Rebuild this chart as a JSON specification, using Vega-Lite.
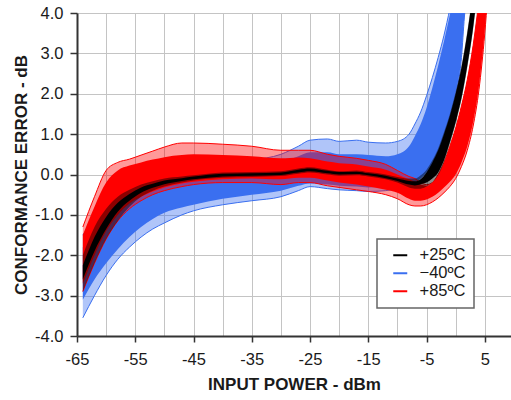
{
  "$schema": "https://vega.github.io/schema/vega-lite/v6.json",
  "width": 434,
  "height": 323,
  "autosize": {"type": "none"},
  "padding": {"left": 77, "top": 13, "right": 0, "bottom": 64},
  "config": {
    "view": {"stroke": null},
    "font": "Liberation Sans",
    "axis": {
      "gridColor": "#c4c4c4", "gridWidth": 1,
      "domainColor": "#333333", "domainWidth": 2,
      "tickColor": "#333333", "tickWidth": 1.5,
      "labelFont": "Liberation Sans", "labelFontSize": 16.5, "labelColor": "#1a1a1a",
      "titleFont": "Liberation Sans", "titleFontSize": 17, "titleFontWeight": "bold", "titleColor": "#1a1a1a",
      "labelFlush": false, "labelOverlap": false, "labelBound": false
    },
    "legend": {"strokeWidth": 1.5}
  },
  "data": {
    "values": [
      {"t": "−40ºC", "x": -64, "lo": -3.55, "hi": -1.5, "clo": -3.1, "chi": -1.8},
      {"t": "−40ºC", "x": -62, "lo": -3.0, "hi": -1.1, "clo": -2.6, "chi": -1.4},
      {"t": "−40ºC", "x": -60, "lo": -2.5, "hi": -0.8, "clo": -2.2, "chi": -1.05},
      {"t": "−40ºC", "x": -58, "lo": -2.1, "hi": -0.6, "clo": -1.85, "chi": -0.8},
      {"t": "−40ºC", "x": -56, "lo": -1.8, "hi": -0.45, "clo": -1.55, "chi": -0.6},
      {"t": "−40ºC", "x": -54, "lo": -1.55, "hi": -0.32, "clo": -1.3, "chi": -0.45},
      {"t": "−40ºC", "x": -52, "lo": -1.35, "hi": -0.22, "clo": -1.1, "chi": -0.33},
      {"t": "−40ºC", "x": -50, "lo": -1.2, "hi": -0.15, "clo": -0.95, "chi": -0.25},
      {"t": "−40ºC", "x": -47, "lo": -1.0, "hi": -0.05, "clo": -0.82, "chi": -0.15},
      {"t": "−40ºC", "x": -45, "lo": -0.9, "hi": 0.05, "clo": -0.75, "chi": -0.1},
      {"t": "−40ºC", "x": -40, "lo": -0.75, "hi": 0.2, "clo": -0.6, "chi": 0.05},
      {"t": "−40ºC", "x": -35, "lo": -0.65, "hi": 0.35, "clo": -0.5, "chi": 0.15},
      {"t": "−40ºC", "x": -30, "lo": -0.55, "hi": 0.5, "clo": -0.4, "chi": 0.3},
      {"t": "−40ºC", "x": -27, "lo": -0.4, "hi": 0.7, "clo": -0.28, "chi": 0.45},
      {"t": "−40ºC", "x": -25, "lo": -0.3, "hi": 0.85, "clo": -0.22, "chi": 0.55},
      {"t": "−40ºC", "x": -22, "lo": -0.35, "hi": 0.88, "clo": -0.25, "chi": 0.55},
      {"t": "−40ºC", "x": -20, "lo": -0.38, "hi": 0.82, "clo": -0.28, "chi": 0.5},
      {"t": "−40ºC", "x": -17, "lo": -0.4, "hi": 0.85, "clo": -0.3, "chi": 0.5},
      {"t": "−40ºC", "x": -15, "lo": -0.42, "hi": 0.8, "clo": -0.32, "chi": 0.48},
      {"t": "−40ºC", "x": -12, "lo": -0.4, "hi": 0.78, "clo": -0.3, "chi": 0.45},
      {"t": "−40ºC", "x": -10, "lo": -0.35, "hi": 0.82, "clo": -0.25, "chi": 0.5},
      {"t": "−40ºC", "x": -8, "lo": -0.3, "hi": 1.0, "clo": -0.25, "chi": 0.7},
      {"t": "−40ºC", "x": -7, "lo": -0.25, "hi": 1.25, "clo": -0.2, "chi": 0.95},
      {"t": "−40ºC", "x": -6, "lo": -0.15, "hi": 1.55, "clo": -0.1, "chi": 1.25},
      {"t": "−40ºC", "x": -5, "lo": 0.0, "hi": 1.95, "clo": 0.05, "chi": 1.65},
      {"t": "−40ºC", "x": -4, "lo": 0.2, "hi": 2.4, "clo": 0.25, "chi": 2.15},
      {"t": "−40ºC", "x": -3, "lo": 0.45, "hi": 2.9, "clo": 0.5, "chi": 2.7},
      {"t": "−40ºC", "x": -2, "lo": 0.85, "hi": 3.45, "clo": 0.9, "chi": 3.3},
      {"t": "−40ºC", "x": -1, "lo": 1.35, "hi": 4.1, "clo": 1.4, "chi": 3.95},
      {"t": "−40ºC", "x": 0, "lo": 1.95, "hi": 4.8, "clo": 2.0, "chi": 4.6},
      {"t": "−40ºC", "x": 1, "lo": 2.9, "hi": 5.5, "clo": 2.95, "chi": 5.3},
      {"t": "−40ºC", "x": 1.5, "lo": 3.9, "hi": 6.0, "clo": 3.95, "chi": 5.7},
      {"t": "−40ºC", "x": 2, "lo": 4.6, "hi": 6.5, "clo": 4.65, "chi": 6.2},

      {"t": "+85ºC", "x": -64, "lo": -2.9, "hi": -1.3, "clo": -2.7, "chi": -1.5},
      {"t": "+85ºC", "x": -62, "lo": -2.2, "hi": -0.55, "clo": -2.0, "chi": -0.8},
      {"t": "+85ºC", "x": -60, "lo": -1.6, "hi": 0.1, "clo": -1.4, "chi": -0.2},
      {"t": "+85ºC", "x": -58, "lo": -1.15, "hi": 0.3, "clo": -1.0, "chi": 0.1},
      {"t": "+85ºC", "x": -56, "lo": -0.85, "hi": 0.38, "clo": -0.72, "chi": 0.22},
      {"t": "+85ºC", "x": -54, "lo": -0.65, "hi": 0.48, "clo": -0.55, "chi": 0.3},
      {"t": "+85ºC", "x": -52, "lo": -0.5, "hi": 0.58, "clo": -0.42, "chi": 0.37},
      {"t": "+85ºC", "x": -50, "lo": -0.4, "hi": 0.68, "clo": -0.32, "chi": 0.43},
      {"t": "+85ºC", "x": -47, "lo": -0.3, "hi": 0.78, "clo": -0.22, "chi": 0.48},
      {"t": "+85ºC", "x": -45, "lo": -0.25, "hi": 0.78, "clo": -0.18, "chi": 0.5},
      {"t": "+85ºC", "x": -40, "lo": -0.2, "hi": 0.75, "clo": -0.12, "chi": 0.48},
      {"t": "+85ºC", "x": -35, "lo": -0.2, "hi": 0.7, "clo": -0.1, "chi": 0.45},
      {"t": "+85ºC", "x": -30, "lo": -0.25, "hi": 0.6, "clo": -0.12, "chi": 0.4},
      {"t": "+85ºC", "x": -27, "lo": -0.2, "hi": 0.6, "clo": -0.08, "chi": 0.42},
      {"t": "+85ºC", "x": -25, "lo": -0.2, "hi": 0.6, "clo": -0.08, "chi": 0.4},
      {"t": "+85ºC", "x": -22, "lo": -0.28, "hi": 0.5, "clo": -0.15, "chi": 0.32},
      {"t": "+85ºC", "x": -20, "lo": -0.32, "hi": 0.45, "clo": -0.2, "chi": 0.28},
      {"t": "+85ºC", "x": -17, "lo": -0.38, "hi": 0.4, "clo": -0.25, "chi": 0.25},
      {"t": "+85ºC", "x": -15, "lo": -0.42, "hi": 0.35, "clo": -0.3, "chi": 0.2},
      {"t": "+85ºC", "x": -12, "lo": -0.5, "hi": 0.25, "clo": -0.38, "chi": 0.12},
      {"t": "+85ºC", "x": -10, "lo": -0.6, "hi": 0.1, "clo": -0.45, "chi": 0.0},
      {"t": "+85ºC", "x": -8, "lo": -0.75, "hi": -0.05, "clo": -0.6, "chi": -0.12},
      {"t": "+85ºC", "x": -7, "lo": -0.78, "hi": -0.1, "clo": -0.65, "chi": -0.18},
      {"t": "+85ºC", "x": -6, "lo": -0.78, "hi": -0.2, "clo": -0.65, "chi": -0.25},
      {"t": "+85ºC", "x": -5, "lo": -0.75, "hi": -0.25, "clo": -0.62, "chi": -0.28},
      {"t": "+85ºC", "x": -4, "lo": -0.68, "hi": -0.2, "clo": -0.55, "chi": -0.2},
      {"t": "+85ºC", "x": -3, "lo": -0.58, "hi": 0.0, "clo": -0.45, "chi": 0.0},
      {"t": "+85ºC", "x": -2, "lo": -0.45, "hi": 0.3, "clo": -0.32, "chi": 0.3},
      {"t": "+85ºC", "x": -1, "lo": -0.3, "hi": 0.7, "clo": -0.18, "chi": 0.7},
      {"t": "+85ºC", "x": 0, "lo": -0.1, "hi": 1.15, "clo": 0.0, "chi": 1.15},
      {"t": "+85ºC", "x": 1, "lo": 0.2, "hi": 1.7, "clo": 0.3, "chi": 1.7},
      {"t": "+85ºC", "x": 2, "lo": 0.6, "hi": 2.35, "clo": 0.7, "chi": 2.35},
      {"t": "+85ºC", "x": 3, "lo": 1.2, "hi": 3.2, "clo": 1.3, "chi": 3.2},
      {"t": "+85ºC", "x": 4, "lo": 2.1, "hi": 4.3, "clo": 2.2, "chi": 4.3},
      {"t": "+85ºC", "x": 5, "lo": 3.5, "hi": 5.5, "clo": 3.6, "chi": 5.5},
      {"t": "+85ºC", "x": 5.5, "lo": 4.4, "hi": 6.0, "clo": 4.5, "chi": 6.0},
      {"t": "+85ºC", "x": 6, "lo": 5.3, "hi": 6.5, "clo": 5.4, "chi": 6.5},

      {"t": "+25ºC", "x": -64, "lo": -2.9, "hi": -2.0, "clo": -2.6, "chi": -2.25},
      {"t": "+25ºC", "x": -62, "lo": -2.2, "hi": -1.3, "clo": -1.9, "chi": -1.55},
      {"t": "+25ºC", "x": -60, "lo": -1.6, "hi": -0.85, "clo": -1.35, "chi": -1.05},
      {"t": "+25ºC", "x": -58, "lo": -1.15, "hi": -0.55, "clo": -0.92, "chi": -0.7},
      {"t": "+25ºC", "x": -56, "lo": -0.8, "hi": -0.38, "clo": -0.65, "chi": -0.48},
      {"t": "+25ºC", "x": -54, "lo": -0.55, "hi": -0.25, "clo": -0.45, "chi": -0.32},
      {"t": "+25ºC", "x": -52, "lo": -0.4, "hi": -0.17, "clo": -0.33, "chi": -0.23},
      {"t": "+25ºC", "x": -50, "lo": -0.3, "hi": -0.1, "clo": -0.24, "chi": -0.15},
      {"t": "+25ºC", "x": -47, "lo": -0.2, "hi": -0.05, "clo": -0.16, "chi": -0.09},
      {"t": "+25ºC", "x": -45, "lo": -0.15, "hi": -0.02, "clo": -0.12, "chi": -0.05},
      {"t": "+25ºC", "x": -40, "lo": -0.08, "hi": 0.05, "clo": -0.05, "chi": 0.02},
      {"t": "+25ºC", "x": -35, "lo": -0.06, "hi": 0.06, "clo": -0.03, "chi": 0.03},
      {"t": "+25ºC", "x": -30, "lo": -0.04, "hi": 0.08, "clo": -0.01, "chi": 0.05},
      {"t": "+25ºC", "x": -27, "lo": 0.02, "hi": 0.15, "clo": 0.05, "chi": 0.12},
      {"t": "+25ºC", "x": -25, "lo": 0.05, "hi": 0.18, "clo": 0.08, "chi": 0.15},
      {"t": "+25ºC", "x": -22, "lo": 0.0, "hi": 0.12, "clo": 0.03, "chi": 0.09},
      {"t": "+25ºC", "x": -20, "lo": -0.03, "hi": 0.08, "clo": 0.0, "chi": 0.06},
      {"t": "+25ºC", "x": -17, "lo": -0.02, "hi": 0.1, "clo": 0.01, "chi": 0.07},
      {"t": "+25ºC", "x": -15, "lo": -0.05, "hi": 0.06, "clo": -0.02, "chi": 0.03},
      {"t": "+25ºC", "x": -12, "lo": -0.12, "hi": 0.0, "clo": -0.09, "chi": -0.03},
      {"t": "+25ºC", "x": -10, "lo": -0.2, "hi": -0.06, "clo": -0.16, "chi": -0.1},
      {"t": "+25ºC", "x": -8, "lo": -0.32, "hi": -0.1, "clo": -0.25, "chi": -0.16},
      {"t": "+25ºC", "x": -7, "lo": -0.35, "hi": -0.1, "clo": -0.27, "chi": -0.17},
      {"t": "+25ºC", "x": -6, "lo": -0.35, "hi": -0.02, "clo": -0.24, "chi": -0.12},
      {"t": "+25ºC", "x": -5, "lo": -0.3, "hi": 0.12, "clo": -0.2, "chi": 0.05},
      {"t": "+25ºC", "x": -4, "lo": -0.2, "hi": 0.35, "clo": -0.1, "chi": 0.3},
      {"t": "+25ºC", "x": -3, "lo": -0.02, "hi": 0.65, "clo": 0.05, "chi": 0.6},
      {"t": "+25ºC", "x": -2, "lo": 0.3, "hi": 1.05, "clo": 0.35, "chi": 1.0},
      {"t": "+25ºC", "x": -1, "lo": 0.75, "hi": 1.5, "clo": 0.8, "chi": 1.45},
      {"t": "+25ºC", "x": 0, "lo": 1.25, "hi": 2.05, "clo": 1.3, "chi": 2.0},
      {"t": "+25ºC", "x": 1, "lo": 1.85, "hi": 2.7, "clo": 1.9, "chi": 2.65},
      {"t": "+25ºC", "x": 2, "lo": 2.65, "hi": 3.55, "clo": 2.7, "chi": 3.5},
      {"t": "+25ºC", "x": 3, "lo": 3.6, "hi": 4.6, "clo": 3.65, "chi": 4.55},
      {"t": "+25ºC", "x": 3.5, "lo": 4.2, "hi": 5.2, "clo": 4.25, "chi": 5.15}
    ]
  },
  "encoding": {
    "x": {
      "field": "x", "type": "quantitative",
      "scale": {"domain": [-65, 9.5], "nice": false, "zero": false},
      "axis": {
        "title": "INPUT POWER - dBm",
        "values": [-65, -60, -55, -50, -45, -40, -35, -30, -25, -20, -15, -10, -5, 0, 5],
        "labelExpr": "(datum.value + 65) % 10 === 0 ? replace(format(datum.value, 'd'), '−', '-') : ''",
        "tickOpacity": {"condition": {"test": "(datum.value + 65) % 10 === 0", "value": 1}, "value": 0},
        "grid": true, "tickSize": 6, "labelPadding": 9, "titlePadding": 9
      }
    },
    "color": {
      "field": "t", "type": "nominal",
      "scale": {"domain": ["+25ºC", "−40ºC", "+85ºC"], "range": ["#000000", "#3a6ff0", "#ff0000"]},
      "legend": {
        "title": null, "orient": "none", "legendX": 300, "legendY": 226,
        "symbolType": "stroke", "symbolSize": 196, "symbolStrokeWidth": 2, "symbolOpacity": 1,
        "labelFont": "Liberation Sans", "labelFontSize": 16.5, "labelColor": "#1a1a1a",
        "padding": 8, "symbolOffset": 7, "labelOffset": 11, "rowPadding": 1,
        "strokeColor": "#666666", "fillColor": "#ffffff"
      }
    }
  },
  "layer": [
    {
      "transform": [{"filter": {"field": "t", "equal": "−40ºC"}}],
      "layer": [
        {
          "mark": {"type": "area", "fillOpacity": 0.4, "clip": true, "interpolate": "monotone"},
          "encoding": {
            "y": {
              "field": "lo", "type": "quantitative",
              "scale": {"domain": [-4, 4], "nice": false, "zero": false},
              "axis": {
                "title": "CONFORMANCE ERROR - dB",
                "values": [-4, -3.5, -3, -2.5, -2, -1.5, -1, -0.5, 0, 0.5, 1, 1.5, 2, 2.5, 3, 3.5, 4],
                "labelExpr": "datum.value % 1 === 0 ? replace(format(datum.value, '.1f'), '−', '-') : ''",
                "tickOpacity": {"condition": {"test": "datum.value % 1 === 0", "value": 1}, "value": 0},
                "grid": true, "tickSize": 7, "labelPadding": 7, "titlePadding": 4
              }
            },
            "y2": {"field": "hi"}
          }
        },
        {
          "mark": {"type": "area", "clip": true, "interpolate": "monotone"},
          "encoding": {"y": {"field": "clo", "type": "quantitative"}, "y2": {"field": "chi"}}
        },
        {
          "mark": {"type": "line", "strokeWidth": 1, "clip": true, "interpolate": "monotone"},
          "encoding": {"y": {"field": "hi", "type": "quantitative"}}
        },
        {
          "mark": {"type": "line", "strokeWidth": 1, "clip": true, "interpolate": "monotone"},
          "encoding": {"y": {"field": "lo", "type": "quantitative"}}
        }
      ]
    },
    {
      "transform": [{"filter": {"field": "t", "equal": "+85ºC"}}],
      "layer": [
        {
          "mark": {"type": "area", "fillOpacity": 0.4, "clip": true, "interpolate": "monotone"},
          "encoding": {"y": {"field": "lo", "type": "quantitative"}, "y2": {"field": "hi"}}
        },
        {
          "mark": {"type": "area", "clip": true, "interpolate": "monotone"},
          "encoding": {"y": {"field": "clo", "type": "quantitative"}, "y2": {"field": "chi"}}
        },
        {
          "mark": {"type": "line", "strokeWidth": 1, "clip": true, "interpolate": "monotone"},
          "encoding": {"y": {"field": "hi", "type": "quantitative"}}
        },
        {
          "mark": {"type": "line", "strokeWidth": 1, "clip": true, "interpolate": "monotone"},
          "encoding": {"y": {"field": "lo", "type": "quantitative"}}
        }
      ]
    },
    {
      "transform": [{"filter": {"field": "t", "equal": "+25ºC"}}],
      "layer": [
        {
          "mark": {"type": "area", "fillOpacity": 0.45, "clip": true, "interpolate": "monotone"},
          "encoding": {"y": {"field": "lo", "type": "quantitative"}, "y2": {"field": "hi"}}
        },
        {
          "mark": {"type": "area", "clip": true, "interpolate": "monotone"},
          "encoding": {"y": {"field": "clo", "type": "quantitative"}, "y2": {"field": "chi"}}
        }
      ]
    }
  ]
}
